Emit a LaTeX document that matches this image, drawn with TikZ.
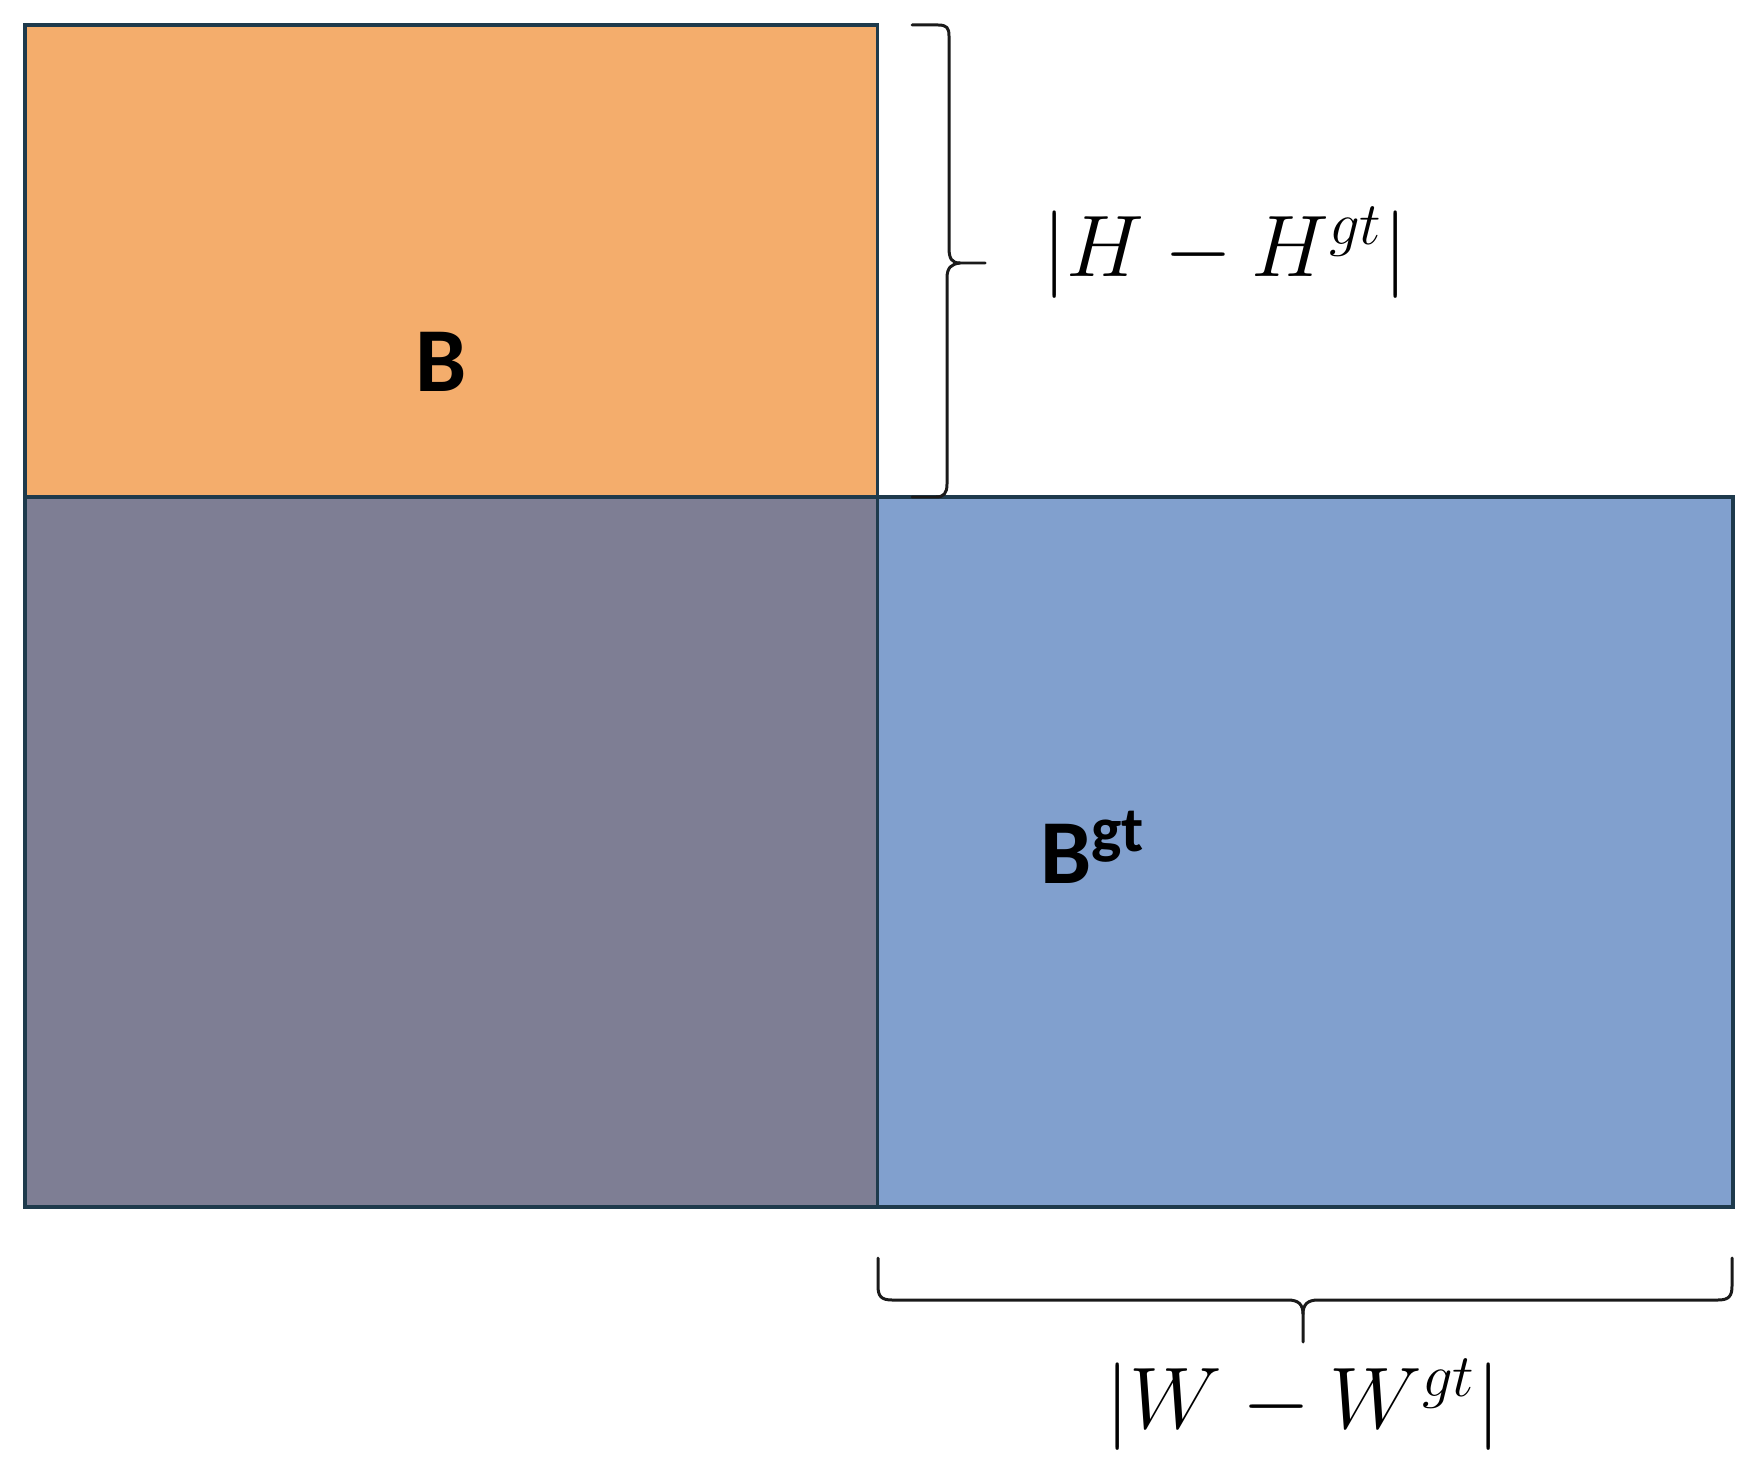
\documentclass[tikz,border=0pt]{standalone}
\usepackage{amsmath}
\usepackage{fontspec}
\newfontfamily\labelfont{Carlito}
\usetikzlibrary{calc,positioning}
\definecolor{boxorange}{HTML}{F4AD6C}
\definecolor{boxgray}{HTML}{7E7E94}
\definecolor{boxblue}{HTML}{81A0CE}
\definecolor{boxedge}{HTML}{1E3A4C}
\definecolor{braceink}{HTML}{1A1A1A}

\begin{document}
\begin{tikzpicture}[x=1cm,y=1cm,
    box/.style={draw=boxedge,line width=0.9pt},
    curly/.style={draw=braceink,line width=0.85pt,line cap=round,line join=round},
    boxlabel/.style={font=\labelfont\bfseries\fontsize{26}{30}\selectfont,inner sep=0pt,anchor=base west},
    difflabel/.style={font=\fontsize{24.5}{30}\selectfont,inner sep=0pt}]
  \useasboundingbox (0,0) rectangle (17.55,14.80);
  % boxes
  \coordinate (pTop) at (0.25,14.55);
  \coordinate (pMid) at (8.775,9.83);
  \coordinate (pLow) at (0.25,2.73);
  \coordinate (gRight) at (17.33,2.73);
  \filldraw[box,fill=boxgray] (pLow) rectangle (pMid);
  \filldraw[box,fill=boxblue] (pMid) rectangle (gRight);
  \filldraw[box,fill=boxorange] (pTop) rectangle (pMid);
  \node[boxlabel] (predB) at (4.15,10.88) {B};
  \node[boxlabel] (truthB) at (10.40,5.97) {B\textsuperscript{gt}};
  % height brace
  \coordinate (hTop) at (9.12,14.55);
  \coordinate (hTip) at (9.85,12.17);
  \coordinate (hBot) at (9.12,9.83);
  \draw[curly] (hTop) -- (9.38,14.55) .. controls (9.47,14.55) and (9.49,14.52) .. (9.49,14.44)
    -- (9.49,12.32) .. controls (9.49,12.21) and (9.52,12.17) .. (9.60,12.17) -- (hTip);
  \draw[curly] (9.60,12.17) .. controls (9.51,12.16) and (9.47,12.12) .. (9.47,12.02)
    -- (9.47,9.96) .. controls (9.47,9.87) and (9.44,9.83) .. (9.36,9.83) -- (hBot);
  \node[difflabel] (hDiff) at (12.25,12.27) {$|H-H^{gt}|$};
  % width brace
  \coordinate (wLeft) at (8.78,2.22);
  \coordinate (wTip) at (13.03,1.38);
  \coordinate (wRight) at (17.32,2.22);
  \draw[curly] (wLeft) -- (8.78,1.94) .. controls (8.78,1.84) and (8.81,1.80) .. (8.92,1.80)
    -- (12.88,1.80) .. controls (12.98,1.80) and (13.03,1.76) .. (13.03,1.66) -- (wTip);
  \draw[curly] (13.03,1.66) .. controls (13.03,1.76) and (13.08,1.80) .. (13.18,1.80)
    -- (17.18,1.80) .. controls (17.29,1.80) and (17.32,1.84) .. (17.32,1.94) -- (wRight);
  \node[difflabel] (wDiff) at (13.03,0.75) {$|W-W^{gt}|$};
\end{tikzpicture}
\end{document}
